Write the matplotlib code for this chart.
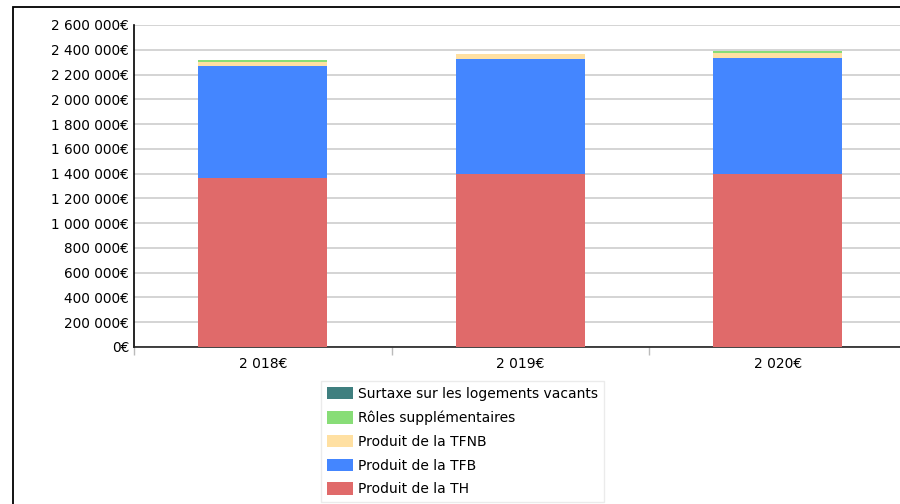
import matplotlib
matplotlib.use("Agg")
import matplotlib.pyplot as plt
from matplotlib.patches import Rectangle, Patch
from matplotlib.ticker import FuncFormatter, FixedLocator

# Tax revenue by year (euros)
years = [2018, 2019, 2020]
produit_th = [1362000, 1395000, 1397000]
produit_tfb = [909000, 933000, 939000]
produit_tfnb = [30000, 38000, 38000]
roles_supplementaires = [16000, 3000, 16000]
surtaxe_logements_vacants = [0, 0, 0]

series_names = [
    "Produit de la TH",
    "Produit de la TFB",
    "Produit de la TFNB",
    "Rôles supplémentaires",
    "Surtaxe sur les logements vacants",
]
series_values = [produit_th, produit_tfb, produit_tfnb,
                 roles_supplementaires, surtaxe_logements_vacants]
series_colors = ["#e06a6a", "#4486ff", "#ffe0a2", "#88dd77", "#3f7f7f"]


def euro(v, _pos=None):
    return f"{int(round(v)):,}".replace(",", " ") + "€"


W, H = 900, 504
fig = plt.figure(figsize=(W / 100, H / 100), dpi=100)
fig.patch.set_facecolor("white")

# outer frame
fig.patches.append(Rectangle((13 / W, -0.1), 1.2, 1.1 - 7 / H,
                             transform=fig.transFigure, fill=False,
                             edgecolor="black", linewidth=1.3))

left, right, top, bottom = 134, 906.5, 25, 347
ax = fig.add_axes([left / W, 1 - bottom / H, (right - left) / W, (bottom - top) / H])

x = list(range(len(years)))
base = [0] * len(years)
for name, vals, col in zip(series_names, series_values, series_colors):
    ax.bar(x, vals, width=0.5, bottom=base, color=col, label=name,
           zorder=3, linewidth=0)
    base = [b + v for b, v in zip(base, vals)]

ax.set_xlim(-0.5, len(years) - 0.5)
ax.set_ylim(0, 2600000)
ax.yaxis.set_major_locator(FixedLocator(range(0, 2600001, 200000)))
ax.yaxis.set_major_formatter(FuncFormatter(euro))
ax.yaxis.grid(True, color="#d4d4d4", linewidth=1.4, zorder=0)
ax.set_axisbelow(True)

ax.set_xticks(x)
ax.set_xticklabels([euro(y) for y in years])
ax.set_xticks([i - 0.5 for i in range(len(years) + 1)], minor=True)
ax.tick_params(axis="x", which="major", length=0, pad=7, labelsize=10, colors="black")
ax.tick_params(axis="x", which="minor", length=6, width=1, color="#bbbbbb")
ax.tick_params(axis="y", length=0, pad=3.5, labelsize=9.8)

for s in ("top", "right"):
    ax.spines[s].set_visible(False)
ax.spines["left"].set_color("black")
ax.spines["left"].set_linewidth(1.2)
ax.spines["bottom"].set_color("#222222")
ax.spines["bottom"].set_linewidth(1.2)

handles = [Patch(facecolor=c, edgecolor="none") for c in series_colors][::-1]
labels = series_names[::-1]
leg = fig.legend(handles, labels, loc="upper left",
                 bbox_to_anchor=(321 / W, 1 - 381 / H),
                 fontsize=10, frameon=True, fancybox=False,
                 edgecolor="#e6e6e6", handlelength=1.85, handleheight=1.0,
                 labelspacing=0.7, handletextpad=0.38, borderpad=0.42,
                 borderaxespad=0)
leg.get_frame().set_linewidth(1.0)

fig.savefig("out.png", dpi=100, facecolor="white")
